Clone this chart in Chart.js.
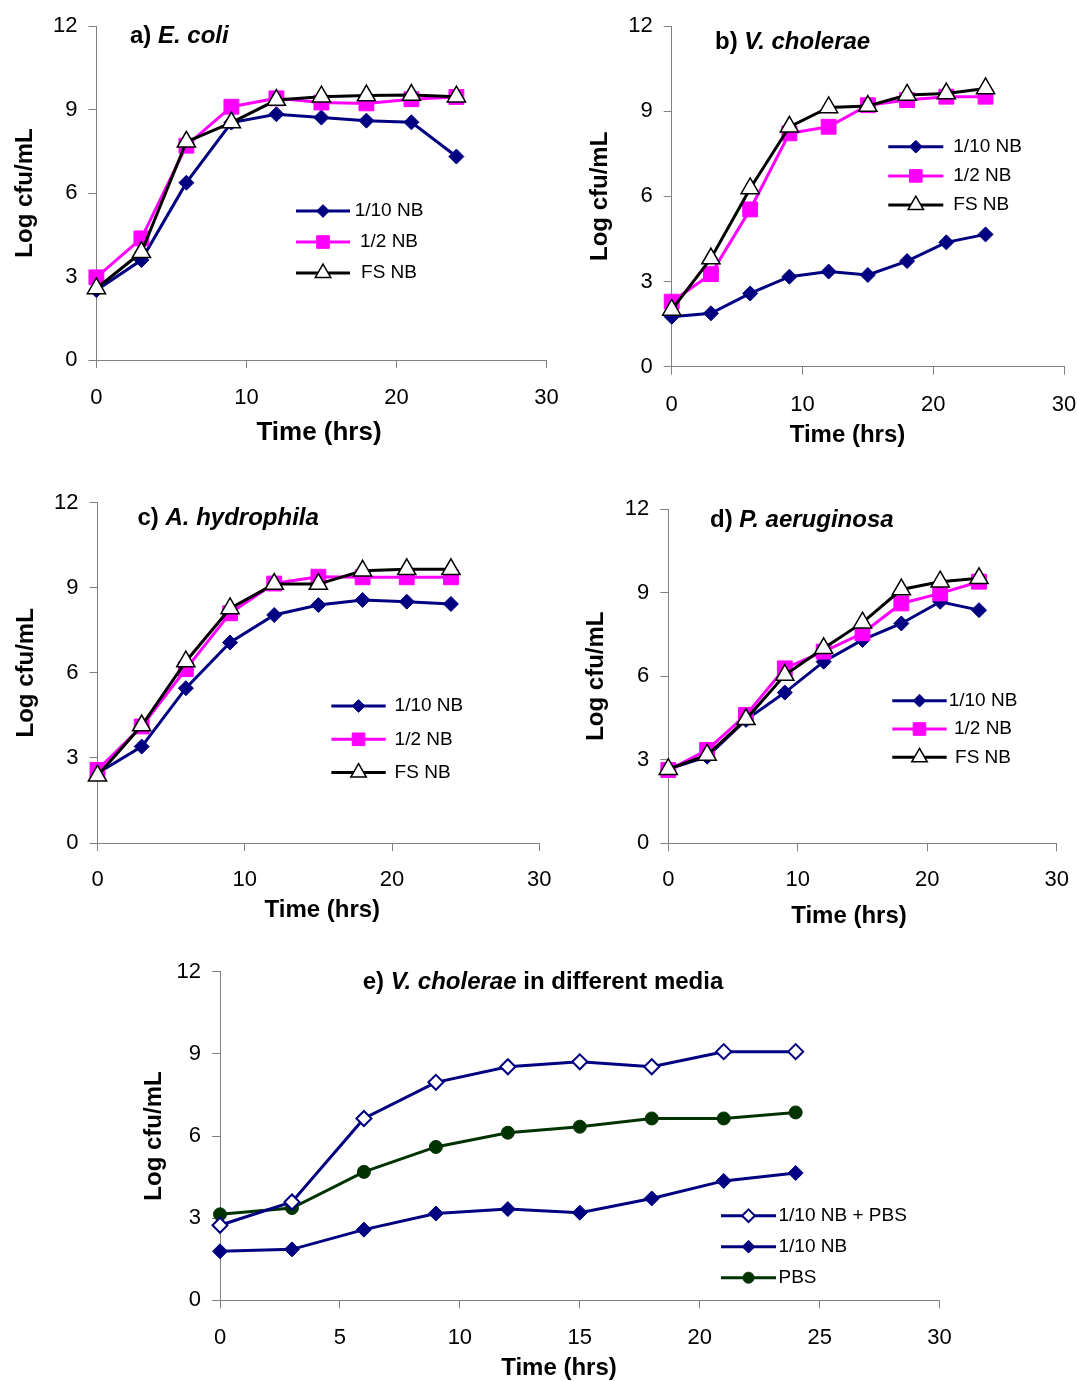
<!DOCTYPE html>
<html>
<head>
<meta charset="utf-8">
<script src="https://cdn.jsdelivr.net/npm/chart.js@4/dist/chart.umd.min.js"></script>
<style>
  body { margin: 0; background: #fff; }
  #page { position: relative; width: 1078px; height: 1381px; background: #fff; }
  canvas { position: absolute; }
</style>
</head>
<body>
<div id="page">
  <canvas id="pa" width="560" height="470" style="left:0px;top:0px"></canvas>
  <canvas id="pb" width="518" height="470" style="left:560px;top:0px"></canvas>
  <canvas id="pc" width="560" height="470" style="left:0px;top:470px"></canvas>
  <canvas id="pd" width="518" height="470" style="left:560px;top:470px"></canvas>
  <canvas id="pe" width="900" height="441" style="left:100px;top:940px"></canvas>
</div>
<script>
// sampling times (hrs)
const hours = [0, 3, 6, 9, 12, 15, 18, 21, 24]
const yTicks = [0, 3, 6, 9, 12]

// a) E. coli
const ecoliTenth = [2.51, 3.59, 6.37, 8.53, 8.83, 8.71, 8.60, 8.54, 7.31]
const ecoliHalf = [2.97, 4.37, 7.70, 9.10, 9.40, 9.25, 9.22, 9.37, 9.45]
const ecoliFull = [2.57, 3.87, 7.84, 8.53, 9.34, 9.46, 9.50, 9.52, 9.46]
// b) V. cholerae
const vcholTenth = [1.76, 1.88, 2.58, 3.17, 3.35, 3.23, 3.72, 4.38, 4.66]
const vcholHalf = [2.29, 3.26, 5.54, 8.22, 8.45, 9.21, 9.39, 9.51, 9.51]
const vcholFull = [2.00, 3.81, 6.28, 8.45, 9.13, 9.18, 9.57, 9.62, 9.80]
// c) A. hydrophila
const ahydTenth = [2.46, 3.40, 5.46, 7.07, 8.04, 8.39, 8.57, 8.51, 8.43]
const ahydHalf = [2.58, 4.11, 6.13, 8.10, 9.15, 9.39, 9.37, 9.37, 9.37]
const ahydFull = [2.37, 4.14, 6.40, 8.27, 9.13, 9.13, 9.60, 9.65, 9.65]
// d) P. aeruginosa
const paerTenth = [2.66, 3.11, 4.43, 5.41, 6.52, 7.30, 7.89, 8.67, 8.37]
const paerHalf = [2.63, 3.35, 4.61, 6.28, 6.88, 7.54, 8.61, 8.97, 9.39]
const paerFull = [2.66, 3.17, 4.45, 6.04, 7.00, 7.92, 9.11, 9.39, 9.51]
// e) V. cholerae in different media
const mediaTenthPbs = [2.74, 3.59, 6.64, 7.96, 8.53, 8.71, 8.53, 9.08, 9.08]
const mediaTenth = [1.79, 1.86, 2.58, 3.17, 3.33, 3.20, 3.72, 4.36, 4.65]
const mediaPbs = [3.14, 3.37, 4.69, 5.60, 6.12, 6.34, 6.64, 6.64, 6.86]

const FONT = '"Liberation Sans", Arial, sans-serif'

const sTenth = { color: '#000080', fill: '#000080', pointStyle: 'rectRot', r: 7.5, bw: 1 }
const sHalf = { color: '#ff00ff', fill: '#ff00ff', pointStyle: 'rect', r: 10.5, bw: 1 }
const sFull = { color: '#000000', fill: '#ffffff', pointStyle: 'triangle', r: 10.5, bw: 1.5 }
const sOpen = { color: '#000080', fill: '#ffffff', pointStyle: 'rectRot', r: 7.5, bw: 2 }
const sPbs = { color: '#003300', fill: '#003300', pointStyle: 'circle', r: 6.5, bw: 1 }

function series(label, values, s, order) {
  return {
    label: label,
    data: hours.map((h, i) => ({ x: h, y: values[i] })),
    borderColor: s.color,
    borderWidth: 3,
    pointStyle: s.pointStyle,
    pointRadius: s.r,
    pointBackgroundColor: s.fill,
    pointBorderColor: s.color,
    pointBorderWidth: s.bw,
    tension: 0,
    clip: false,
    order: order
  }
}

// titles and legend drawn on the canvas
const panelText = {
  id: 'panelText',
  afterDraw(chart, args, opts) {
    const ctx = chart.ctx
    ctx.save()
    ctx.textBaseline = 'middle'
    ctx.fillStyle = '#000'
    ctx.textAlign = 'left'
    let x = opts.title.x
    opts.title.parts.forEach(p => {
      ctx.font = (p.italic ? 'italic ' : '') + 'bold 24px ' + FONT
      ctx.fillText(p.text, x, opts.title.y)
      x += ctx.measureText(p.text).width
    })

    ctx.textAlign = 'center'
    ctx.font = 'bold ' + opts.xTitle.size + 'px ' + FONT
    ctx.fillText('Time (hrs)', opts.xTitle.x, opts.xTitle.y)

    const lg = opts.legend
    chart.data.datasets.forEach((ds, i) => {
      const y = lg.y + i * lg.dy
      ctx.strokeStyle = ds.borderColor
      ctx.lineWidth = ds.borderWidth
      ctx.beginPath()
      ctx.moveTo(lg.x1, y)
      ctx.lineTo(lg.x2, y)
      ctx.stroke()
      ctx.fillStyle = ds.pointBackgroundColor
      ctx.strokeStyle = ds.pointBorderColor
      ctx.lineWidth = ds.pointBorderWidth
      Chart.helpers.drawPoint(ctx, {
        pointStyle: ds.pointStyle,
        radius: ds.pointRadius * lg.scale,
        borderWidth: ds.pointBorderWidth,
        rotation: 0
      }, (lg.x1 + lg.x2) / 2, y)
      ctx.fillStyle = '#000'
      ctx.font = '19px ' + FONT
      ctx.textAlign = lg.align
      ctx.fillText(ds.label, lg.tx, y)
    })
    ctx.restore()
  }
}

function makePanel(id, datasets, L) {
  return new Chart(document.getElementById(id), {
    type: 'line',
    data: { datasets: datasets },
    plugins: [panelText],
    options: {
      responsive: false,
      animation: false,
      events: [],
      layout: { padding: { left: L.padLeft, right: L.padRight, top: L.padTop, bottom: L.padBottom } },
      plugins: {
        legend: { display: false },
        tooltip: { enabled: false },
        panelText: { title: L.title, xTitle: L.xTitle, legend: L.legend }
      },
      scales: {
        x: {
          type: 'linear',
          min: 0,
          max: 30,
          afterBuildTicks: s => { s.ticks = L.xTicks.map(v => ({ value: v })) },
          afterFit: s => {
            s.height = 60
            s.paddingLeft = 0
            s.paddingRight = 0
          },
          grid: { drawOnChartArea: false, drawTicks: true, tickLength: 8, color: '#808080', lineWidth: 1 },
          border: { color: '#808080', width: 1 },
          ticks: { color: '#000', padding: L.xPad, maxRotation: 0, font: { family: FONT, size: 22 } }
        },
        y: {
          min: 0,
          max: 12,
          afterBuildTicks: s => { s.ticks = yTicks.map(v => ({ value: v })) },
          afterFit: s => {
            s.width = L.yWidth
            s.paddingTop = 0
            s.paddingBottom = 0
          },
          grid: { drawOnChartArea: false, drawTicks: true, tickLength: 8, color: '#808080', lineWidth: 1 },
          border: { color: '#808080', width: 1 },
          ticks: { color: '#000', padding: 11, font: { family: FONT, size: 22 } },
          title: {
            display: true,
            text: 'Log cfu/mL',
            color: '#000',
            padding: { top: 4, bottom: 0 },
            font: { family: FONT, size: 24, weight: 'bold' }
          }
        }
      }
    }
  })
}

const ticks10 = [0, 10, 20, 30]
const ticks5 = [0, 5, 10, 15, 20, 25, 30]

makePanel('pa', [
  series('1/10 NB', ecoliTenth, sTenth, 3),
  series('1/2 NB', ecoliHalf, sHalf, 2),
  series('FS NB', ecoliFull, sFull, 1)
], {
  padLeft: 6.6, yWidth: 89.8, padRight: 13.6, padTop: 26, padBottom: 470 - 360 - 60,
  xTicks: ticks10, xPad: 16.8,
  title: { x: 130, y: 36, parts: [{ text: 'a) ' }, { text: 'E. coli', italic: true }] },
  xTitle: { x: 319, y: 433, size: 26 },
  legend: { x1: 296, x2: 350, y: 211, dy: 31, tx: 389, align: 'center', scale: 0.85 }
})

makePanel('pb', [
  series('1/10 NB', vcholTenth, sTenth, 3),
  series('1/2 NB', vcholHalf, sHalf, 2),
  series('FS NB', vcholFull, sFull, 1)
], {
  padLeft: 22.4, yWidth: 89.3, padRight: 14, padTop: 26, padBottom: 470 - 366.7 - 60,
  xTicks: ticks10, xPad: 17.1,
  title: { x: 155, y: 42, parts: [{ text: 'b) ' }, { text: 'V. cholerae', italic: true }] },
  xTitle: { x: 287.5, y: 435, size: 24 },
  legend: { x1: 328.3, x2: 383.3, y: 146.7, dy: 29.2, tx: 393.3, align: 'left', scale: 0.85 }
})

makePanel('pc', [
  series('1/10 NB', ahydTenth, sTenth, 3),
  series('1/2 NB', ahydHalf, sHalf, 2),
  series('FS NB', ahydFull, sFull, 1)
], {
  padLeft: 8.4, yWidth: 89.1, padRight: 20.7, padTop: 32.7, padBottom: 470 - 373 - 60,
  xTicks: ticks10, xPad: 15.8,
  title: { x: 137.5, y: 48.3, parts: [{ text: 'c) ' }, { text: 'A. hydrophila', italic: true }] },
  xTitle: { x: 322.3, y: 440, size: 24 },
  legend: { x1: 331.4, x2: 385.7, y: 236, dy: 33.3, tx: 394.6, align: 'left', scale: 0.85 }
})

makePanel('pd', [
  series('1/10 NB', paerTenth, sTenth, 3),
  series('1/2 NB', paerHalf, sHalf, 2),
  series('FS NB', paerFull, sFull, 1)
], {
  padLeft: 18.3, yWidth: 90, padRight: 21.3, padTop: 39, padBottom: 470 - 373.3 - 60,
  xTicks: ticks10, xPad: 15.5,
  title: { x: 150, y: 50, parts: [{ text: 'd) ' }, { text: 'P. aeruginosa', italic: true }] },
  xTitle: { x: 289, y: 446.7, size: 24 },
  legend: { x1: 332.3, x2: 386.7, y: 230.7, dy: 28.3, tx: 423, align: 'center', scale: 0.85 }
})

makePanel('pe', [
  series('1/10 NB + PBS', mediaTenthPbs, sOpen, 1),
  series('1/10 NB', mediaTenth, sTenth, 2),
  series('PBS', mediaPbs, sPbs, 3)
], {
  padLeft: 36.4, yWidth: 83.6, padRight: 60.4, padTop: 31.7, padBottom: 441 - 360.3 - 60,
  xTicks: ticks5, xPad: 16.5,
  title: { x: 262.7, y: 42.3, parts: [{ text: 'e) ' }, { text: 'V. cholerae', italic: true }, { text: ' in different media' }] },
  xTitle: { x: 459, y: 428.3, size: 24 },
  legend: { x1: 621, x2: 676, y: 275.7, dy: 31, tx: 678.5, align: 'left', scale: 0.85 }
})
</script>
</body>
</html>
